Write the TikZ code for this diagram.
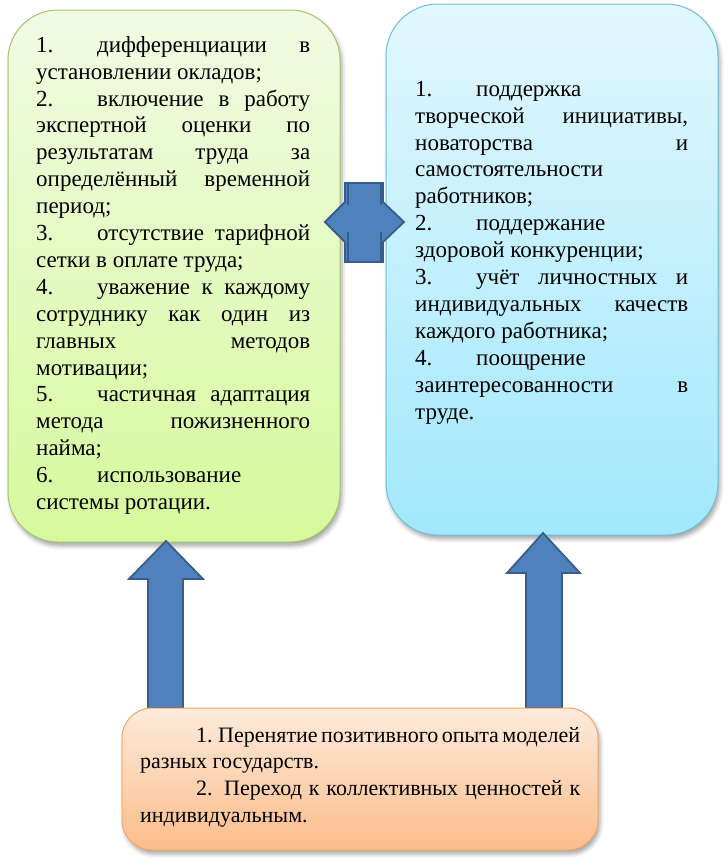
\documentclass[tikz,border=0pt]{standalone}
\usepackage{fontspec}
\setmainfont{Liberation Serif}
\usetikzlibrary{shadows.blur}
\setlength{\parindent}{0pt}
\setlength{\parskip}{0pt}
\definecolor{gtop}{HTML}{F1FBE4}
\definecolor{gbot}{HTML}{D6F99C}
\definecolor{gline}{HTML}{A5C46A}
\definecolor{btop}{HTML}{E2F7FE}
\definecolor{bbot}{HTML}{A2E8FC}
\definecolor{bline}{HTML}{6CC0D8}
\definecolor{otop}{HTML}{FDEBDC}
\definecolor{obot}{HTML}{FBBD8A}
\definecolor{oline}{HTML}{F5A465}
\definecolor{afill}{HTML}{4F81BD}
\definecolor{aline}{HTML}{385D8A}
\newlength\colw
\newcommand\JL[1]{\hbox to \colw{\rule{0pt}{20pt}#1}}
\newcommand\LL[1]{\hbox to \colw{\rule{0pt}{20pt}#1\hfil}}
\newcommand\NB[1]{\hbox to 61pt{#1\hfil}}
\tikzset{
  boxbase/.style={rectangle, line width=1pt, inner sep=0pt,
    blur shadow={shadow xshift=2pt, shadow yshift=-4pt, shadow blur radius=4pt, shadow opacity=35}},
  gbox/.style={boxbase, rounded corners=50pt, draw=gline, top color=gtop, bottom color=gbot},
  bbox/.style={boxbase, rounded corners=52pt, draw=bline, top color=btop, bottom color=bbot},
  obox/.style={boxbase, rounded corners=30pt, draw=oline, top color=otop, bottom color=obot},
  txt/.style={anchor=north west, inner sep=0pt, font=\rmfamily\fontsize{23}{26.9}\selectfont},
  otxt/.style={anchor=north west, inner sep=0pt, font=\rmfamily\fontsize{22}{26.7}\selectfont},
  barrow/.style={fill=afill, draw=aline, line width=1.8pt, line join=miter},
  notch/.style={draw=aline, line width=1.2pt}
}
\begin{document}
\begin{tikzpicture}[x=1pt,y=-1pt]
\useasboundingbox (0,0) rectangle (728,863);
% boxes
\node[gbox, minimum width=332pt, minimum height=532pt] (green) at (174,276) {};
\node[bbox, minimum width=332pt, minimum height=531pt] (blue) at (552,269.5) {};
% texts
\node[txt] (gtext) at (36,32) {\setlength\colw{274pt}\vbox{%
\JL{\NB{1.}дифференциации в}
\LL{установлении окладов;}
\JL{\NB{2.}включение в работу}
\JL{экспертной оценки по}
\JL{результатам труда за}
\JL{определённый временной}
\LL{период;}
\JL{\NB{3.}отсутствие тарифной}
\LL{сетки в оплате труда;}
\JL{\NB{4.}уважение к каждому}
\JL{сотруднику как один из}
\JL{главных методов}
\LL{мотивации;}
\JL{\NB{5.}частичная адаптация}
\JL{метода пожизненного}
\LL{найма;}
\LL{\NB{6.}использование}
\LL{системы ротации.}}};
\node[txt] (btext) at (415,76) {\setlength\colw{273pt}\vbox{%
\LL{\NB{1.}поддержка}
\JL{творческой инициативы,}
\JL{новаторства и}
\LL{самостоятельности}
\LL{работников;}
\LL{\NB{2.}поддержание}
\LL{здоровой конкуренции;}
\JL{\NB{3.}учёт личностных и}
\JL{индивидуальных качеств}
\LL{каждого работника;}
\LL{\NB{4.}поощрение}
\JL{заинтересованности в}
\LL{труде.}}};
% double arrow between boxes
\coordinate (dl) at (325,222);
\coordinate (dr) at (404,222);
\draw[barrow] (dl) -- (345,202) -- (345,183) -- (383,183) -- (383,202) -- (dr)
  -- (383,242) -- (383,262) -- (345,262) -- (345,242) -- cycle;
\draw[notch] (348,184) -- (348,205) (348,232) -- (348,261)
  (381,184) -- (381,205) (381,232) -- (381,261);
% up arrows
\coordinate (lt) at (166,541);
\coordinate (rt) at (543,533);
\draw[barrow] (lt) -- (203,579) -- (183,579) -- (183,708) -- (148,708) -- (148,579) -- (129,579) -- cycle;
\draw[barrow] (rt) -- (580,573) -- (562,573) -- (562,708) -- (526,708) -- (526,573) -- (507,573) -- cycle;
% bottom box
\node[obox, minimum width=476pt, minimum height=142pt] (orange) at (360,779) {};
\node[otxt] (otext) at (140,722) {\setlength\colw{440pt}\vbox{%
\JL{\spaceskip=3.8pt plus 10pt minus 1.2pt\hspace*{56pt}1. Перенятие позитивного опыта моделей}
\LL{разных государств.}
\JL{\hspace*{56pt}2. Переход к коллективных ценностей к}
\LL{индивидуальным.}}};
\end{tikzpicture}
\end{document}
